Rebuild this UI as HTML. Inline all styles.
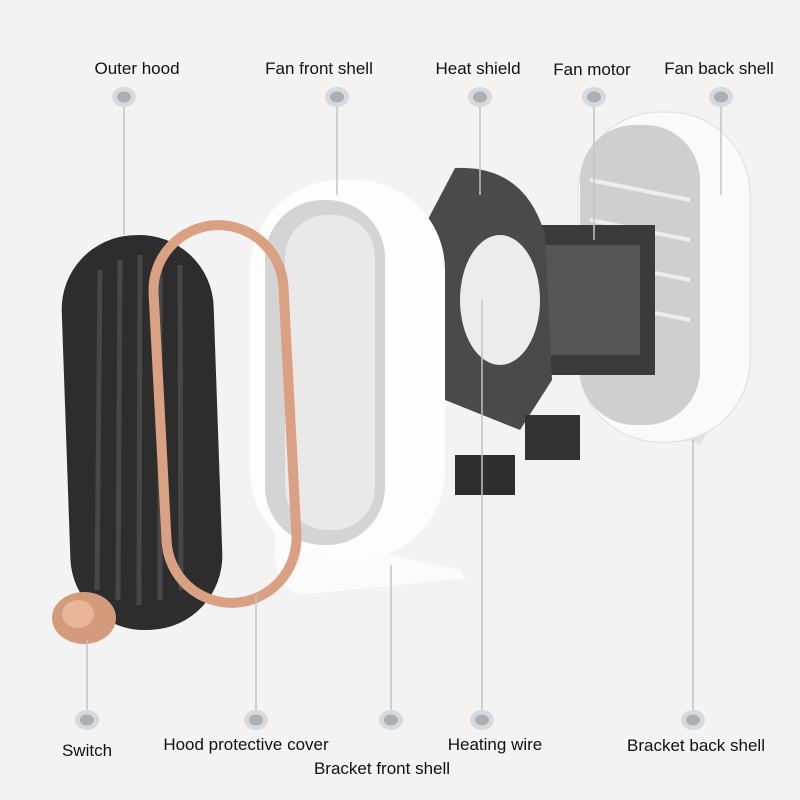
<!DOCTYPE html><html><head><style>body{margin:0;background:#f3f3f3}svg{display:block}text{font-family:"Liberation Sans",sans-serif;font-size:17px;fill:#111}</style></head><body>
<svg width="800" height="800" viewBox="0 0 800 800">
<rect width="800" height="800" fill="#f3f3f3"/>
<!-- back shell -->
<path d="M590 395 L640 420 L700 445 Q715 420 720 410 L705 400 Z" fill="#e2e2e2"/>
<rect x="578" y="112" width="172" height="330" rx="82" fill="#fafafa" stroke="#ddd"/>
<rect x="580" y="125" width="120" height="300" rx="55" fill="#cfcfcf"/>
<g stroke="#eee" stroke-width="4"><line x1="590" y1="180" x2="690" y2="200"/><line x1="590" y1="220" x2="690" y2="240"/><line x1="590" y1="260" x2="690" y2="280"/><line x1="590" y1="300" x2="690" y2="320"/></g>
<!-- motor -->
<rect x="530" y="225" width="125" height="150" fill="#3b3b3b"/>
<rect x="545" y="245" width="95" height="110" fill="#555"/>
<!-- heat shield -->
<path d="M455 168 Q525 165 545 235 L552 380 L520 430 L445 400 Q418 300 425 225 Z" fill="#4a4a4a"/>
<ellipse cx="500" cy="300" rx="40" ry="65" fill="#ececec"/>
<rect x="525" y="415" width="55" height="45" fill="#333"/>
<rect x="455" y="455" width="60" height="40" fill="#2e2e2e"/>
<!-- front shell -->
<path d="M275 530 L460 570 L465 578 L300 595 Q270 585 275 530Z" fill="#fbfbfb"/>
<rect x="250" y="180" width="195" height="380" rx="90" fill="#fdfdfd"/>
<rect x="265" y="200" width="120" height="345" rx="58" fill="#d4d4d4"/>
<rect x="285" y="215" width="90" height="315" rx="42" fill="#e9e9e9"/>
<!-- outer hood -->
<rect x="66" y="235" width="152" height="395" rx="74" fill="#2d2d2d" transform="rotate(-2 143 432)"/>
<g stroke="#474747" stroke-width="5"><line x1="100" y1="270" x2="97" y2="590"/><line x1="120" y1="260" x2="118" y2="600"/><line x1="140" y1="255" x2="139" y2="605"/><line x1="160" y1="258" x2="160" y2="600"/><line x1="180" y1="265" x2="181" y2="590"/></g>
<!-- copper ring -->
<rect x="160" y="225" width="130" height="378" rx="65" fill="none" stroke="#d9a083" stroke-width="10" transform="rotate(-3 225 414)"/>
<!-- switch -->
<ellipse cx="84" cy="618" rx="32" ry="26" fill="#d39a7b"/>
<ellipse cx="78" cy="614" rx="16" ry="14" fill="#e8b597"/>
<!-- lines -->
<g stroke="#bfc5c9" stroke-width="1.5">
<line x1="124" y1="100" x2="124" y2="235"/><line x1="337" y1="100" x2="337" y2="195"/><line x1="480" y1="100" x2="480" y2="195"/><line x1="594" y1="100" x2="594" y2="240"/><line x1="721" y1="100" x2="721" y2="195"/>
<line x1="87" y1="640" x2="87" y2="718"/><line x1="256" y1="595" x2="256" y2="718"/><line x1="391" y1="565" x2="391" y2="718"/><line x1="482" y1="300" x2="482" y2="718"/><line x1="693" y1="440" x2="693" y2="718"/></g>
<g>
<g fill="#d6dadd"><ellipse cx="124" cy="97" rx="12" ry="10"/><ellipse cx="337" cy="97" rx="12" ry="10"/><ellipse cx="480" cy="97" rx="12" ry="10"/><ellipse cx="594" cy="97" rx="12" ry="10"/><ellipse cx="721" cy="97" rx="12" ry="10"/><ellipse cx="87" cy="720" rx="12" ry="10"/><ellipse cx="256" cy="720" rx="12" ry="10"/><ellipse cx="391" cy="720" rx="12" ry="10"/><ellipse cx="482" cy="720" rx="12" ry="10"/><ellipse cx="693" cy="720" rx="12" ry="10"/></g>
<g fill="#a8b0b5"><ellipse cx="124" cy="97" rx="7" ry="5.5"/><ellipse cx="337" cy="97" rx="7" ry="5.5"/><ellipse cx="480" cy="97" rx="7" ry="5.5"/><ellipse cx="594" cy="97" rx="7" ry="5.5"/><ellipse cx="721" cy="97" rx="7" ry="5.5"/><ellipse cx="87" cy="720" rx="7" ry="5.5"/><ellipse cx="256" cy="720" rx="7" ry="5.5"/><ellipse cx="391" cy="720" rx="7" ry="5.5"/><ellipse cx="482" cy="720" rx="7" ry="5.5"/><ellipse cx="693" cy="720" rx="7" ry="5.5"/></g></g>
<g text-anchor="middle">
<text x="137" y="74">Outer hood</text><text x="319" y="74">Fan front shell</text><text x="478" y="74">Heat shield</text><text x="592" y="75">Fan motor</text><text x="719" y="74">Fan back shell</text>
<text x="87" y="756">Switch</text><text x="246" y="750">Hood protective cover</text><text x="382" y="774">Bracket front shell</text><text x="495" y="750">Heating wire</text><text x="696" y="751">Bracket back shell</text></g>
</svg></body></html>
